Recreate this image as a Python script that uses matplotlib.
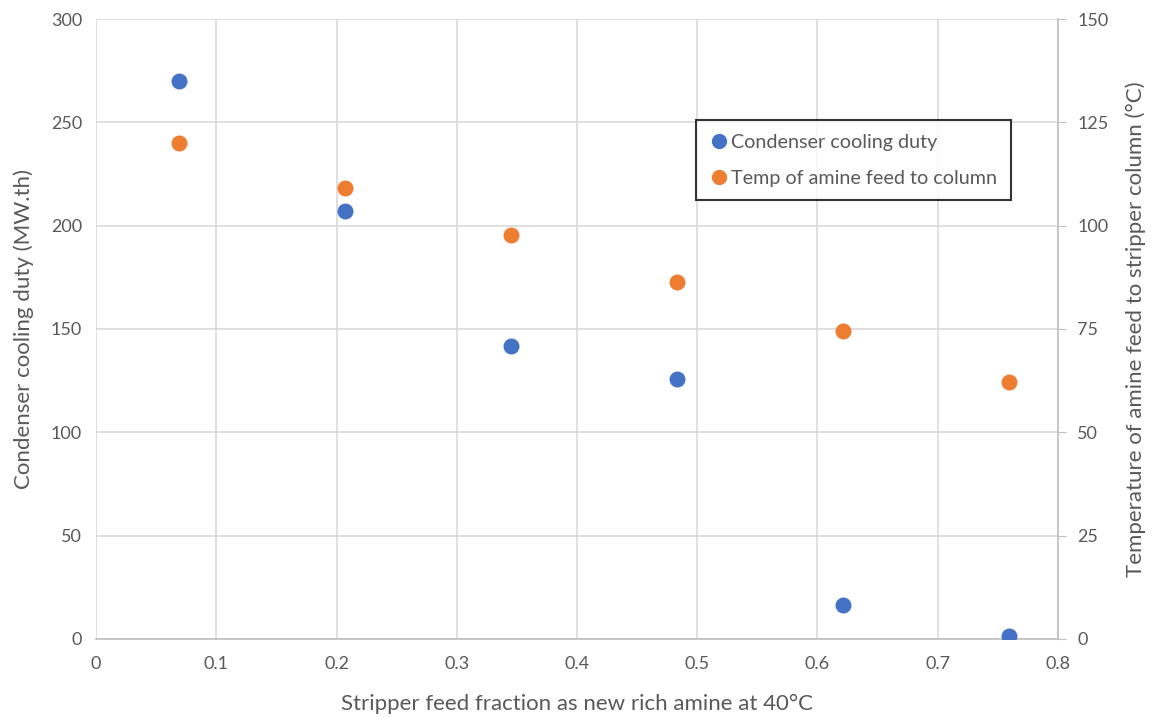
import matplotlib
matplotlib.use("Agg")
import matplotlib.pyplot as plt
from matplotlib.lines import Line2D

plt.rcParams['font.family'] = ['Lato', 'DejaVu Sans']

x_frac = [0.069, 0.207, 0.345, 0.483, 0.621, 0.759]
duty = [270, 207, 142, 126, 16.5, 1.5]
temp = [120, 109, 97.7, 86.4, 74.5, 62.2]

x_ticks = [0, 0.1, 0.2, 0.3, 0.4, 0.5, 0.6, 0.7, 0.8]
x_labels = ['0', '0.1', '0.2', '0.3', '0.4', '0.5', '0.6', '0.7', '0.8']
left_ticks = [0, 50, 100, 150, 200, 250, 300]
right_ticks = [0, 25, 50, 75, 100, 125, 150]

blue = '#4472C4'
orange = '#ED7D31'
txt = '#595959'
grid = '#D9D9D9'

fig = plt.figure(figsize=(11.54, 7.17), dpi=100)
ax = fig.add_axes([0.0832, 0.1088, 0.8336, 0.8647])
ax2 = ax.twinx()

ax.set_xlim(0, 0.8)
ax.set_ylim(0, 300)
ax2.set_ylim(0, 150)
ax.set_xticks(x_ticks)
ax.set_xticklabels(x_labels)
ax.set_yticks(left_ticks)
ax2.set_yticks(right_ticks)

ax.grid(True, color=grid, linewidth=1.2)
ax.set_axisbelow(True)
for s in ['top', 'right', 'left']:
    ax.spines[s].set_visible(False)
for s in ['top', 'left', 'bottom']:
    ax2.spines[s].set_visible(False)
ax.spines['bottom'].set_color('#BFBFBF')
ax.spines['bottom'].set_linewidth(1.2)
ax2.spines['right'].set_color('#BFBFBF')
ax2.spines['right'].set_linewidth(1.2)

ax.tick_params(axis='both', length=0, colors=txt, labelsize=13, pad=10)
ax.tick_params(axis='x', pad=12)
ax2.tick_params(axis='y', length=6, color='#BFBFBF', labelcolor=txt, labelsize=13, pad=8)

ax.scatter(x_frac, duty, s=110, color=blue, zorder=3, label='Condenser cooling duty')
ax2.scatter(x_frac, temp, s=110, color=orange, zorder=3, label='Temp of amine feed to column')

ax.set_xlabel('Stripper feed fraction as new rich amine at 40°C', color=txt, fontsize=16, labelpad=16)
ax.set_ylabel('Condenser cooling duty (MW.th)', color=txt, fontsize=16, labelpad=12)
ax2.set_ylabel('Temperature of amine feed to stripper column (°C)', color=txt, fontsize=16, labelpad=12)

handles = [Line2D([], [], marker='o', linestyle='none', color=blue, markersize=10),
           Line2D([], [], marker='o', linestyle='none', color=orange, markersize=10)]
leg = ax2.legend(handles, ['Condenser cooling duty', 'Temp of amine feed to column'],
                 loc='upper left', bbox_to_anchor=(0.6235, 0.837), frameon=True, fancybox=False,
                 edgecolor='black', fontsize=14.2, handletextpad=0.1, handlelength=1.0,
                 labelspacing=0.95, borderpad=0.7, borderaxespad=0, labelcolor=txt)
leg.get_frame().set_linewidth(1.5)

fig.savefig('out.png', dpi=100)
